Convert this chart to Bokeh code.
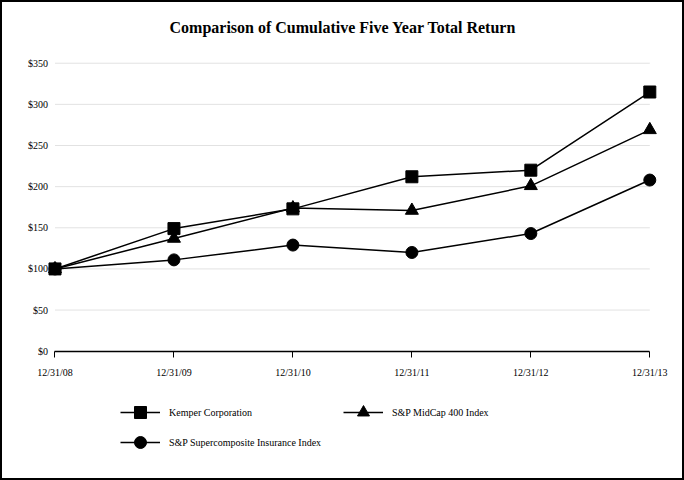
from bokeh.plotting import figure
from bokeh.models import Range1d, FixedTicker, Legend, LegendItem, ColumnDataSource, Label
from bokeh.embed import file_html
from bokeh.resources import INLINE

dates = ["12/31/08", "12/31/09", "12/31/10", "12/31/11", "12/31/12", "12/31/13"]
kemper = [100, 149, 173, 212, 220, 315]
midcap = [100, 137, 174, 171, 201, 269]
supercomp = [100, 111, 129, 120, 143, 208]
y_ticks = [0, 50, 100, 150, 200, 250, 300, 350]
y_labels = ["$0", "$50", "$100", "$150", "$200", "$250", "$300", "$350"]
names = ["Kemper Corporation", "S&P MidCap 400 Index", "S&P Supercomposite Insurance Index"]
title_text = "Comparison of Cumulative Five Year Total Return"

xs = list(range(len(dates)))
FONT = "Liberation Serif"

p = figure(width=684, height=480, output_backend="svg", toolbar_location=None,
           x_range=Range1d(-0.4581, 5.2917), y_range=Range1d(-157.1, 426.2),
           min_border=0)
p.outline_line_color = "black"
p.outline_line_width = 3
p.xgrid.visible = False
p.ygrid.visible = False
p.background_fill_color = "white"
p.border_fill_color = "white"

# title
p.add_layout(Label(x=342.5, y=453, x_units="screen", y_units="screen", text=title_text,
                   text_font=FONT, text_font_size="16px", text_font_style="bold",
                   text_color="black", text_align="center", text_baseline="middle"))

# gridlines
p.segment(x0=[xs[0]] * (len(y_ticks) - 1), x1=[xs[-1]] * (len(y_ticks) - 1),
          y0=y_ticks[1:], y1=y_ticks[1:], line_color="#e2e2e2", line_width=1)

# axes
xa = p.xaxis[0]
xa.fixed_location = 0
xa.bounds = (xs[0], xs[-1])
xa.ticker = FixedTicker(ticks=xs)
xa.major_label_overrides = {i: d for i, d in enumerate(dates)}
xa.axis_line_color = "black"
xa.axis_line_width = 1.5
xa.minor_tick_line_color = None
xa.major_tick_in = 0
xa.major_tick_out = 6
xa.major_tick_line_color = "black"
xa.major_label_standoff = 10
xa.major_label_text_font = FONT
xa.major_label_text_font_size = "10px"
xa.major_label_text_color = "black"

ya = p.yaxis[0]
ya.fixed_location = 0
ya.ticker = FixedTicker(ticks=y_ticks)
ya.major_label_overrides = {t: l for t, l in zip(y_ticks, y_labels)}
ya.axis_line_color = None
ya.minor_tick_line_color = None
ya.major_tick_line_color = None
ya.major_tick_in = 0
ya.major_tick_out = 0
ya.major_label_standoff = 7
ya.major_label_text_font = FONT
ya.major_label_text_font_size = "10px"
ya.major_label_text_color = "black"

src = ColumnDataSource(dict(x=xs, k=kemper, m=midcap, s=supercomp))
ls = p.line("x", "s", source=src, line_color="black", line_width=1.5)
ms = p.scatter("x", "s", source=src, marker="circle", size=12, fill_color="black", line_color="black")
lm = p.line("x", "m", source=src, line_color="black", line_width=1.5)
mm = p.scatter("x", "m", source=src, marker="triangle", size=13, fill_color="black", line_color="black")
lk = p.line("x", "k", source=src, line_color="black", line_width=1.5)
mk = p.scatter("x", "k", source=src, marker="square", size=12, fill_color="black", line_color="black")

def style_legend(lg):
    lg.border_line_color = None
    lg.background_fill_alpha = 0
    lg.padding = 0
    lg.margin = 0
    lg.spacing = 0
    lg.glyph_width = 40
    lg.glyph_height = 30
    lg.label_height = 30
    lg.label_standoff = 9
    lg.label_text_font = FONT
    lg.label_text_font_size = "10px"
    lg.label_text_color = "black"

leg1 = Legend(items=[LegendItem(label=names[0], renderers=[lk, mk]),
                     LegendItem(label=names[2], renderers=[ls, ms])],
              location=(120, 23), orientation="vertical")
leg2 = Legend(items=[LegendItem(label=names[1], renderers=[lm, mm])],
              location=(343, 53), orientation="vertical")
style_legend(leg1)
style_legend(leg2)
p.add_layout(leg1, "center")
p.add_layout(leg2, "center")

open("out.html", "w").write(file_html(p, INLINE))
